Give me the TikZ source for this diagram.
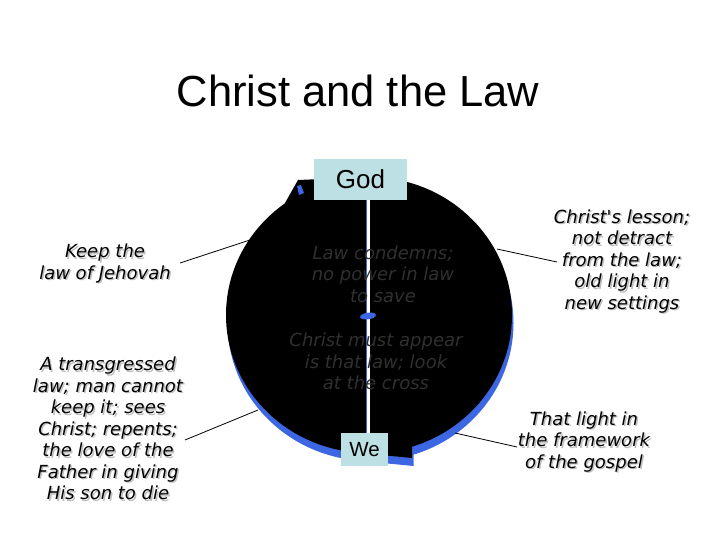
\documentclass[tikz,border=0pt]{standalone}
\usepackage{fontspec}
\newfontfamily\titlefont{Liberation Sans}
\newfontfamily\vfont{DejaVu Sans}[ItalicFont={DejaVu Sans Oblique}]
\definecolor{boxblue}{RGB}{189,224,228}
\definecolor{shadowblue}{RGB}{61,102,226}
\definecolor{dimtext}{RGB}{48,48,48}
\definecolor{txtshadow}{RGB}{190,190,190}
\tikzset{
  lbl/.style={align=center, inner sep=0pt, font=\vfont\itshape\fontsize{18}{21.5}\selectfont},
  lblshadow/.style={lbl, text=txtshadow},
  ctext/.style={lbl, text=dimtext},
  conn/.style={draw=black, line width=0.8pt},
  lbox/.style={fill=boxblue, inner sep=0pt, font=\titlefont},
}
\begin{document}
\begin{tikzpicture}[x=1pt,y=-1pt]
\useasboundingbox (0,0) rectangle (720,540);
% title
\node[anchor=base, inner sep=0pt, font=\titlefont\fontsize{43.5}{48}\selectfont] (title) at (358,107) {Christ and the Law};
% shadow of the circular arrow
\begin{scope}[shift={(1.5,8)}]
  \fill[shadowblue] (369,315) ellipse [x radius=143, y radius=138];
  \fill[shadowblue] (350,452) -- (412,458) -- (412,440) -- (350,440) -- cycle;
\end{scope}
% black circular arrow
\fill[black] (369,315) ellipse [x radius=143, y radius=138];
\fill[black] (350,452) -- (412,458) -- (412,440) -- (350,440) -- cycle;
\fill[black] (298,180) -- (322,179) -- (322,215) -- (286,215) -- (285,203) -- cycle;
\fill[shadowblue] (297,186) -- (301,185) -- (304,193) -- (299,195) -- cycle;
% centre axis
\draw[shadowblue, line width=1.2pt] (366.6,200) -- (366.6,433);
\draw[white, line width=2.4pt] (368.6,200) -- (368.6,433);
\fill[shadowblue, rotate around={8:(368,316)}] (368,316) ellipse [x radius=8, y radius=3.3];
% text inside the circle
\node[ctext] (c1) at (383,276.5) {\strut Law condemns;\\ \strut no power in law\\ \strut to save};
\node[ctext] (c2) at (376,364) {\strut Christ must appear\\ \strut is that law; look\\ \strut at the cross};
% boxes
\node[lbox, minimum width=93pt, minimum height=41pt, font=\titlefont\fontsize{26}{30}\selectfont] (god) at (360.5,179.5) {God};
\node[lbox, minimum width=47pt, minimum height=33pt, font=\titlefont\fontsize{20.5}{24}\selectfont] (we) at (364.5,449.5) {We};
% labels with shadows
\node[lblshadow] (keepS) at (106.5,265.5) {\strut Keep the\\ \strut law of Jehovah};
\node[lbl] (keep) at (105,264) {\strut Keep the\\ \strut law of Jehovah};
\node[lblshadow] (transS) at (109.5,432.5) {\strut A transgressed\\ \strut law; man cannot\\ \strut keep it; sees\\ \strut Christ; repents;\\ \strut the love of the\\ \strut Father in giving\\ \strut His son to die};
\node[lbl] (trans) at (108,431) {\strut A transgressed\\ \strut law; man cannot\\ \strut keep it; sees\\ \strut Christ; repents;\\ \strut the love of the\\ \strut Father in giving\\ \strut His son to die};
\node[lblshadow] (lessonS) at (623.5,263.5) {\strut Christ's lesson;\\ \strut not detract\\ \strut from the law;\\ \strut old light in\\ \strut new settings};
\node[lbl] (lesson) at (622,262) {\strut Christ's lesson;\\ \strut not detract\\ \strut from the law;\\ \strut old light in\\ \strut new settings};
\node[lblshadow] (thatS) at (585.5,444) {\strut That light in\\ \strut the framework\\ \strut of the gospel};
\node[lbl] (that) at (584,442.5) {\strut That light in\\ \strut the framework\\ \strut of the gospel};
% connectors
\coordinate (keepL) at (180,263);
\coordinate (keepC) at (250,240);
\coordinate (transL) at (185,440);
\coordinate (transC) at (258,410);
\coordinate (lessonC) at (497,249);
\coordinate (lessonL) at (557,262);
\coordinate (thatC) at (455,433);
\coordinate (thatL) at (517,447);
\draw[conn] (keepL) -- (keepC);
\draw[conn] (transL) -- (transC);
\draw[conn] (lessonC) -- (lessonL);
\draw[conn] (thatC) -- (thatL);
\end{tikzpicture}
\end{document}
